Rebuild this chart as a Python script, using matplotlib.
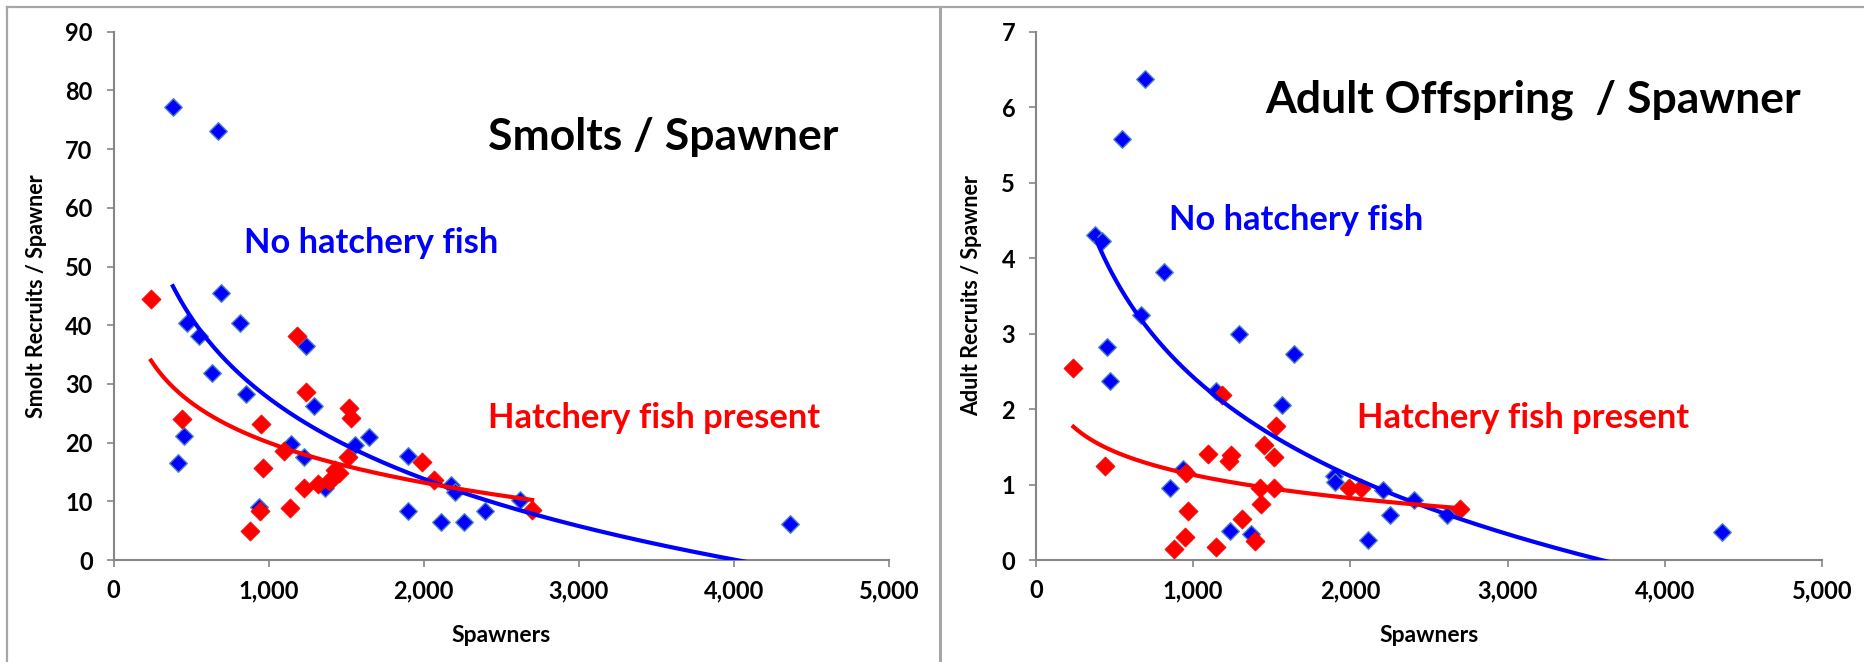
import numpy as np
import matplotlib
matplotlib.use("Agg")
import matplotlib.pyplot as plt
from matplotlib.ticker import FuncFormatter, MultipleLocator
from matplotlib.lines import Line2D

plt.rcParams['font.family'] = ['Lato', 'DejaVu Sans']
plt.rcParams['font.weight'] = 'bold'

# --- smolts / spawner (left panel)
smolt_blue_spawners = [383, 675, 694, 475, 817, 552, 1242, 636, 855, 1292, 456, 1645, 1146, 1560,
                       1227, 1898, 418, 2174, 2205, 1361, 935, 2619, 1898, 2396, 2109, 2258, 4359]
smolt_blue_rps = [77.2, 73.0, 45.5, 40.3, 40.3, 38.1, 36.4, 31.8, 28.2, 26.2, 21.1, 20.9, 19.8, 19.6,
                  17.6, 17.8, 16.5, 12.7, 11.5, 12.3, 9.1, 10.2, 8.3, 8.3, 6.5, 6.5, 6.1]
smolt_red_spawners = [242, 1185, 1238, 1518, 1530, 441, 951, 1514, 1986, 1100, 962, 1430, 1453, 1415,
                      1388, 1319, 2067, 1227, 1139, 943, 2699, 882]
smolt_red_rps = [44.4, 38.1, 28.7, 25.9, 24.2, 24.1, 23.1, 17.6, 16.7, 18.6, 15.7, 15.4, 14.9, 14.0,
                 13.4, 12.9, 13.6, 12.2, 8.9, 8.3, 8.6, 5.0]

# --- adult offspring / spawner (right panel)
adult_blue_spawners = [692, 545, 378, 420, 817, 669, 1290, 1641, 450, 469, 1142, 1562, 1895, 1899,
                       2209, 2402, 2254, 2617, 938, 855, 1233, 1365, 2110, 4361]
adult_blue_rps = [6.37, 5.58, 4.30, 4.23, 3.82, 3.25, 3.00, 2.73, 2.82, 2.37, 2.24, 2.05, 1.11, 1.03,
                  0.93, 0.79, 0.60, 0.60, 1.20, 0.96, 0.38, 0.35, 0.27, 0.37]
adult_red_spawners = [238, 1184, 1528, 1452, 1097, 1240, 1225, 1513, 439, 953, 1422, 1513, 1989, 2065,
                      1430, 964, 1312, 2697, 945, 877, 1142, 1392]
adult_red_rps = [2.54, 2.18, 1.78, 1.53, 1.41, 1.39, 1.31, 1.36, 1.25, 1.15, 0.95, 0.95, 0.96, 0.96,
                 0.74, 0.65, 0.54, 0.67, 0.31, 0.15, 0.17, 0.25]

BLUE = '#0000FF'
RED = '#FF0000'
GREY = '#868686'

fig = plt.figure(figsize=(18.64, 6.62), dpi=100)
W, H = 1864, 662

def log_trend(ax, x, y, color):
    # excel style logarithmic trendline
    x = np.asarray(x, float)
    b, a = np.polyfit(np.log(x), np.asarray(y, float), 1)
    xs = np.linspace(x.min(), x.max(), 300)
    ax.plot(xs, a + b * np.log(xs), color=color, lw=3, zorder=4)

def panel(left_px, right_px, bx, by, rx, ry, ymax, ystep, ylabel, ylab_x, title, tpos, npos, hpos):
    ax = fig.add_axes([left_px / W, 1 - 560 / H, (right_px - left_px) / W, (560 - 31.7) / H])
    ax.scatter(bx, by, marker='D', s=80, color=BLUE, edgecolors='#4F81BD', linewidths=1, zorder=2)
    ax.scatter(rx, ry, marker='D', s=95, color=RED, edgecolors=RED, linewidths=0.5, zorder=3)
    log_trend(ax, bx, by, BLUE)
    log_trend(ax, rx, ry, RED)
    ax.set_xlim(0, 5000)
    ax.set_ylim(0, ymax)
    ax.xaxis.set_major_locator(MultipleLocator(1000))
    ax.yaxis.set_major_locator(MultipleLocator(ystep))
    ax.xaxis.set_major_formatter(FuncFormatter(lambda v, p: f"{v:,.0f}"))
    for s in ['top', 'right']:
        ax.spines[s].set_visible(False)
    for s in ['left', 'bottom']:
        ax.spines[s].set_color(GREY)
        ax.spines[s].set_linewidth(1.5)
    ax.tick_params(axis='both', colors=GREY, length=5, width=1.2, labelsize=17, labelcolor='black')
    ax.tick_params(axis='y', pad=10)
    ax.tick_params(axis='x', pad=9)
    ax.set_xlabel("Spawners", fontsize=16.5, fontweight='bold')
    ax.set_ylabel(ylabel, fontsize=15.5, fontweight='bold')
    ax.xaxis.set_label_coords(0.5, -0.123)
    ax.yaxis.set_label_coords(ylab_x, 0.5)
    fig.text(tpos[0] / W, 1 - tpos[1] / H, title, fontsize=32, fontweight='bold', ha='left', va='baseline')
    fig.text(npos[0] / W, 1 - npos[1] / H, "No hatchery fish", fontsize=24.8, fontweight='bold',
             color=BLUE, ha='left', va='baseline')
    fig.text(hpos[0] / W, 1 - hpos[1] / H, "Hatchery fish present", fontsize=24.8, fontweight='bold',
             color=RED, ha='left', va='baseline')
    return ax

panel(113.5, 889, smolt_blue_spawners, smolt_blue_rps, smolt_red_spawners, smolt_red_rps,
      90, 10, "Smolt Recruits / Spawner", -0.086, "Smolts / Spawner", (488, 150), (244, 253), (488, 428))
panel(1036, 1822, adult_blue_spawners, adult_blue_rps, adult_red_spawners, adult_red_rps,
      7, 1, "Adult Recruits / Spawner", -0.069, "Adult Offspring  / Spawner", (1265, 112), (1169, 230), (1357, 428))

# frame lines of the two chart boxes
fig.add_artist(Line2D([7 / W, 1], [1 - 7 / H, 1 - 7 / H], color='#A6A6A6', lw=1.6))
fig.add_artist(Line2D([7 / W, 7 / W], [0, 1 - 7 / H], color='#A6A6A6', lw=1.6))
fig.add_artist(Line2D([940 / W, 940 / W], [0, 1 - 7 / H], color='#A6A6A6', lw=2.2))

fig.savefig("out.png", dpi=100)
